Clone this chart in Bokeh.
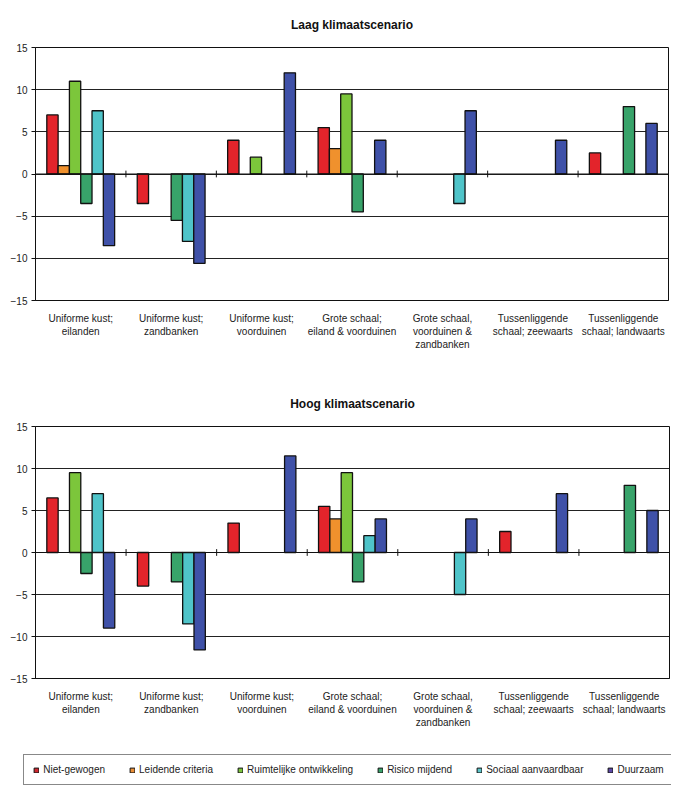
import numpy as np
from bokeh.plotting import figure
from bokeh.models import (ColumnDataSource, FactorRange, Range1d, FixedTicker,
                          Span, Legend, LegendItem)
from bokeh.transform import dodge
from bokeh.layouts import column
from bokeh.embed import file_html
from bokeh.resources import INLINE

nan = float("nan")

categories = [
    "Uniforme kust;\neilanden",
    "Uniforme kust;\nzandbanken",
    "Uniforme kust;\nvoorduinen",
    "Grote schaal;\neiland & voorduinen",
    "Grote schaal,\nvoorduinen &\nzandbanken",
    "Tussenliggende\nschaal; zeewaarts",
    "Tussenliggende\nschaal; landwaarts",
]

series_names = ["Niet-gewogen", "Leidende criteria", "Ruimtelijke ontwikkeling",
                "Risico mijdend", "Sociaal aanvaardbaar", "Duurzaam"]
series_colors = ["#E3242B", "#F0912D", "#7CC63B", "#38A36A", "#4FC4C9", "#3F51A8"]
legend_colors = ["#D0262E", "#EC8F36", "#7CC63B", "#38A36A", "#5CC6CA", "#5C48A8"]

y_ticks = [-15, -10, -5, 0, 5, 10, 15]

# Laag klimaatscenario
laag_niet_gewogen = [7, -3.5, 4, 5.5, nan, nan, 2.5]
laag_leidende = [1, nan, nan, 3, nan, nan, nan]
laag_ruimtelijk = [11, nan, 2, 9.5, nan, nan, nan]
laag_risico = [-3.5, -5.5, nan, -4.5, nan, nan, 8]
laag_sociaal = [7.5, -8, nan, nan, -3.5, nan, nan]
laag_duurzaam = [-8.5, -10.6, 12, 4, 7.5, 4, 6]

# Hoog klimaatscenario
hoog_niet_gewogen = [6.5, -4, 3.5, 5.5, nan, 2.5, nan]
hoog_leidende = [nan, nan, nan, 4, nan, nan, nan]
hoog_ruimtelijk = [9.5, nan, nan, 9.5, nan, nan, nan]
hoog_risico = [-2.5, -3.5, nan, -3.5, nan, nan, 8]
hoog_sociaal = [7, -8.5, nan, 2, -5, nan, nan]
hoog_duurzaam = [-9, -11.6, 11.5, 4, 4, 7, 5]

FONT = "Liberation Sans"
BAR_W = 0.125


def add_bars(p, values):
    data = {"cat": categories}
    for i, v in enumerate(values):
        data[f"s{i}"] = np.array(v, dtype=float)
    src = ColumnDataSource(data)
    renderers = []
    for i in range(len(values)):
        r = p.vbar(x=dodge("cat", (i - 2.5) * BAR_W, range=p.x_range), top=f"s{i}", bottom=0,
                   width=BAR_W, source=src, fill_color=series_colors[i],
                   line_color="#111111", line_width=1.3)
        renderers.append(r)
    return renderers


def make_chart(title, values, bl, fw, br, bt, fh, bb, standoff):
    p = figure(x_range=FactorRange(factors=categories), y_range=Range1d(-15, 15),
               frame_width=fw, frame_height=fh,
               min_border_left=bl, min_border_right=br,
               min_border_top=bt, min_border_bottom=bb,
               output_backend="svg", toolbar_location=None, title=title)
    p.title.text_font = FONT
    p.title.text_font_size = "12px"
    p.title.text_font_style = "bold"
    p.title.align = "center"
    p.title.standoff = standoff
    p.title.text_color = "#111111"

    p.add_layout(Span(location=0, dimension="width", line_color="#111111", line_width=1))
    add_bars(p, values)

    tsrc = ColumnDataSource({"cat": categories[1:]})
    p.segment(x0=dodge("cat", -0.5, range=p.x_range), x1=dodge("cat", -0.5, range=p.x_range),
              y0=-0.4, y1=0.4, source=tsrc, line_color="#111111", line_width=1)

    p.outline_line_color = "#111111"
    p.outline_line_width = 1
    p.xgrid.visible = False
    p.ygrid.ticker = FixedTicker(ticks=y_ticks)
    p.ygrid.grid_line_color = "#222222"
    p.ygrid.grid_line_width = 1

    p.yaxis.ticker = FixedTicker(ticks=y_ticks)
    p.yaxis.major_label_text_font = FONT
    p.yaxis.major_label_text_font_size = "10px"
    p.yaxis.major_label_text_color = "#222222"
    p.yaxis.axis_line_color = "#111111"
    p.yaxis.major_tick_line_color = "#111111"
    p.yaxis.major_tick_out = 4
    p.yaxis.major_tick_in = 0
    p.yaxis.minor_tick_line_color = None
    p.yaxis.major_label_standoff = 4

    p.xaxis.major_label_text_font = FONT
    p.xaxis.major_label_text_font_size = "10px"
    p.xaxis.major_label_text_color = "#222222"
    p.xaxis.axis_line_color = "#111111"
    p.xaxis.major_tick_line_color = None
    p.xaxis.minor_tick_line_color = None
    p.xaxis.major_label_standoff = 6
    p.xaxis.major_label_orientation = "horizontal"
    return p


p1 = make_chart("Laag klimaatscenario",
                [laag_niet_gewogen, laag_leidende, laag_ruimtelijk,
                 laag_risico, laag_sociaal, laag_duurzaam],
                35, 633, 13, 47, 253, 78, 31)
p2 = make_chart("Hoog klimaatscenario",
                [hoog_niet_gewogen, hoog_leidende, hoog_ruimtelijk,
                 hoog_risico, hoog_sociaal, hoog_duurzaam],
                35, 634, 12, 48, 252, 72, 32)

# legend strip: legend-only proxies (no data drawn) for the six series
p3 = figure(x_range=FactorRange(factors=categories), y_range=Range1d(0, 1),
            frame_width=650, frame_height=37,
            min_border_left=23, min_border_right=8, min_border_top=0, min_border_bottom=0,
            x_axis_type=None, y_axis_type=None,
            output_backend="svg", toolbar_location=None)
p3.outline_line_color = None
p3.grid.visible = False
proxy = ColumnDataSource({"cat": [categories[0]], "v": [nan]})
items = []
for name, color in zip(series_names, legend_colors):
    r = p3.vbar(x="cat", top="v", bottom="v", width=BAR_W, source=proxy,
                fill_color=color, line_color="#111111", line_width=1)
    items.append(LegendItem(label=name, renderers=[r]))

legend = Legend(items=items, orientation="horizontal", location=(13, 2),
                border_line_color="#111111", border_line_width=1,
                background_fill_color="white", background_fill_alpha=1,
                padding=9, spacing=24, margin=0,
                glyph_width=6, glyph_height=6, label_standoff=4, label_height=11,
                label_text_font=FONT, label_text_font_size="10px",
                label_text_color="#222222")
p3.add_layout(legend)

layout = column(p1, p2, p3, spacing=0)
open("out.html", "w").write(file_html(layout, INLINE))
